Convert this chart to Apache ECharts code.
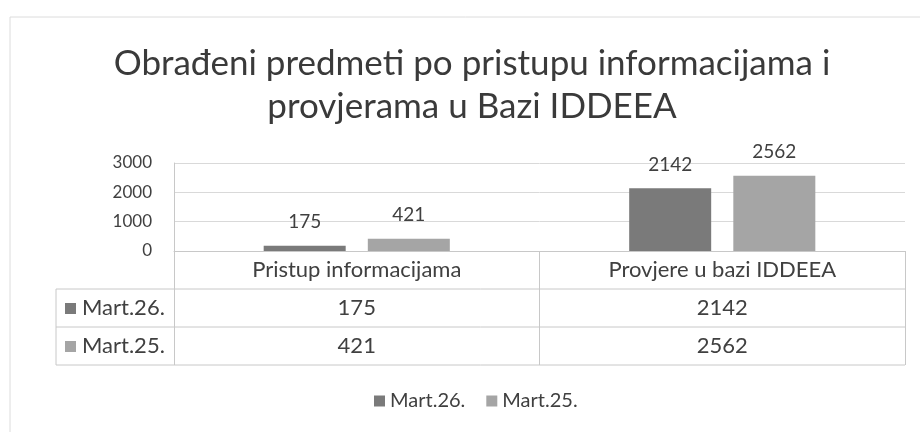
<!DOCTYPE html>
<html><head><meta charset="utf-8">
<script src="https://cdn.jsdelivr.net/npm/echarts@6/dist/echarts.min.js"></script>
<style>html,body{margin:0;padding:0;background:#fff}#c{width:920px;height:432px}</style>
</head><body><div id="c"></div>
<script>
const categories = ['Pristup informacijama', 'Provjere u bazi IDDEEA'];
const seriesNames = ['Mart.26.', 'Mart.25.'];
const mart26 = [175, 2142];
const mart25 = [421, 2562];
const yTicks = [0, 1000, 2000, 3000];
const titleText = 'Obrađeni predmeti po pristupu informacijama i\nprovjerama u Bazi IDDEEA';

const FONT = 'Lato';
const TXT = '#404040';
const colors = ['#7a7a7a', '#a5a5a5'];
const seriesData = [mart26, mart25];

const chart = echarts.init(document.getElementById('c'));
const gridTop = 163, gridBottom = 181, gridLeft = 174, gridRight = 15;
const rowH = 38;
const TBL = 22;

chart.setOption({
  animation: false,
  color: colors,
  textStyle: { fontFamily: FONT },
  title: {
    text: titleText, left: 467, top: 37, textAlign: 'center',
    textStyle: { fontFamily: FONT, fontSize: 35, fontWeight: 'normal', color: '#3a3a3a', lineHeight: 43, align: 'center' }
  },
  legend: {
    bottom: 16, left: 369, itemWidth: 11, itemHeight: 11, itemGap: 21,
    icon: 'rect', data: seriesNames,
    textStyle: { fontFamily: FONT, fontSize: 20, color: TXT }
  },
  grid: { top: gridTop, bottom: gridBottom, left: gridLeft, right: gridRight },
  xAxis: {
    type: 'category', data: categories,
    axisLine: { lineStyle: { color: '#c8c8c8' } },
    axisTick: { show: true, length: rowH * 3, lineStyle: { color: '#c8c8c8' } },
    axisLabel: { margin: 8, fontSize: TBL, color: TXT, fontFamily: FONT }
  },
  yAxis: {
    type: 'value', min: 0, max: 3000, interval: 1000,
    axisLine: { show: true, lineStyle: { color: '#c8c8c8' } },
    axisTick: { show: false },
    splitLine: { lineStyle: { color: '#d9d9d9' } },
    axisLabel: { margin: 22, fontSize: 17, color: TXT, fontFamily: FONT,
      formatter: v => yTicks.includes(v) ? String(v) : '' }
  },
  series: seriesNames.map((n, i) => ({
    name: n, type: 'bar', data: seriesData[i], barWidth: 82, barGap: '27%',
    itemStyle: { color: colors[i] },
    label: { show: true, position: 'top', distance: 14, fontSize: 19, color: TXT, fontFamily: FONT }
  }))
});

const x0 = chart.convertToPixel({ gridIndex: 0 }, [0, 0]);
const axisY = x0[1];
const leftX = 56;
const rightX = 920 - gridRight;
const g = [];
g.push({ type: 'rect', shape: { x: 10, y: 17, width: 940, height: 460 }, style: { fill: 'none', stroke: '#dcdcdc', lineWidth: 1 }, silent: true });
for (let r = 1; r <= 3; r++) {
  const y = axisY + rowH * r;
  g.push({ type: 'line', shape: { x1: leftX, y1: y, x2: rightX, y2: y }, style: { stroke: '#c8c8c8', lineWidth: 1 }, silent: true });
}
g.push({ type: 'line', shape: { x1: leftX, y1: axisY + rowH, x2: leftX, y2: axisY + rowH * 3 }, style: { stroke: '#c8c8c8', lineWidth: 1 }, silent: true });
seriesNames.forEach((n, i) => {
  const cy = axisY + rowH * (i + 1) + rowH / 2;
  g.push({ type: 'rect', shape: { x: 65, y: cy - 5, width: 11, height: 11 }, style: { fill: colors[i] }, silent: true });
  g.push({ type: 'text', x: 82, y: cy, style: { text: n, fontSize: TBL, fontFamily: FONT, fill: TXT, textVerticalAlign: 'middle', textAlign: 'left' }, silent: true });
  categories.forEach((c, j) => {
    const px = chart.convertToPixel({ xAxisIndex: 0 }, c);
    g.push({ type: 'text', x: px, y: cy, style: { text: String(seriesData[i][j]), fontSize: TBL, fontFamily: FONT, fill: TXT, textVerticalAlign: 'middle', textAlign: 'center' }, silent: true });
  });
});
chart.setOption({ graphic: g });
</script></body></html>
